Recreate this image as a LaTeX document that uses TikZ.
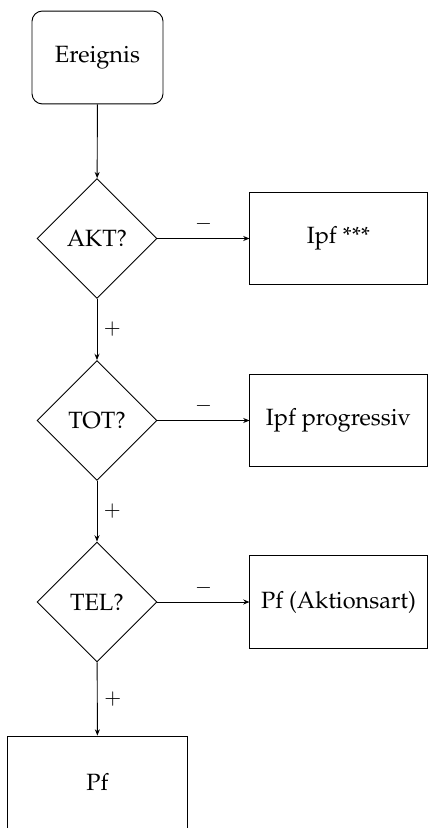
\documentclass[tikz,border=0pt]{standalone}
\usepackage[T1]{fontenc}
\usepackage{mathpazo}
\usetikzlibrary{shapes.geometric,arrows.meta}
\begin{document}
\begin{tikzpicture}[x=0.48pt,y=-0.48pt,
  every node/.style={font=\fontsize{11.3}{13}\selectfont},
  startbox/.style={draw,rounded corners=5pt,minimum width=62.9pt,minimum height=44.6pt,inner sep=0pt,line width=0.45pt},
  decision/.style={draw,diamond,aspect=1,minimum width=57.6pt,minimum height=57.6pt,inner sep=0pt,line width=0.45pt},
  outbox/.style={draw,rectangle,minimum width=85pt,minimum height=44.6pt,inner sep=0pt,line width=0.45pt},
  endbox/.style={draw,rectangle,minimum width=86pt,minimum height=44.6pt,inner sep=0pt,line width=0.45pt},
  conn/.style={-{Stealth[length=3pt,width=2.4pt]},line width=0.45pt},
  lab/.style={inner sep=3pt,font=\fontsize{10}{12}\selectfont}]
\useasboundingbox (0,0) rectangle (428,828);
\node[startbox] (ev) at (97.5,57.5) {Ereignis};
\node[decision] (akt) at (97,238.5) {AKT?};
\node[decision] (tot) at (97,420.5) {TOT?};
\node[decision] (tel) at (97,602) {TEL?};
\node[outbox] (ipf) at (338.5,238.5) {Ipf ***};
\node[outbox] (prog) at (338.5,420.5) {Ipf progressiv};
\node[outbox] (akts) at (338.5,602) {Pf (Aktionsart)};
\node[endbox] (pf) at (97.5,782.5) {Pf};
\draw[conn] (ev) -- (akt);
\draw[conn] (akt) -- node[lab,right] {$+$} (tot);
\draw[conn] (tot) -- node[lab,right] {$+$} (tel);
\draw[conn] (tel) -- node[lab,right] {$+$} (pf);
\draw[conn] (akt) -- node[lab,above] {$-$} (ipf);
\draw[conn] (tot) -- node[lab,above] {$-$} (prog);
\draw[conn] (tel) -- node[lab,above] {$-$} (akts);
\end{tikzpicture}
\end{document}
